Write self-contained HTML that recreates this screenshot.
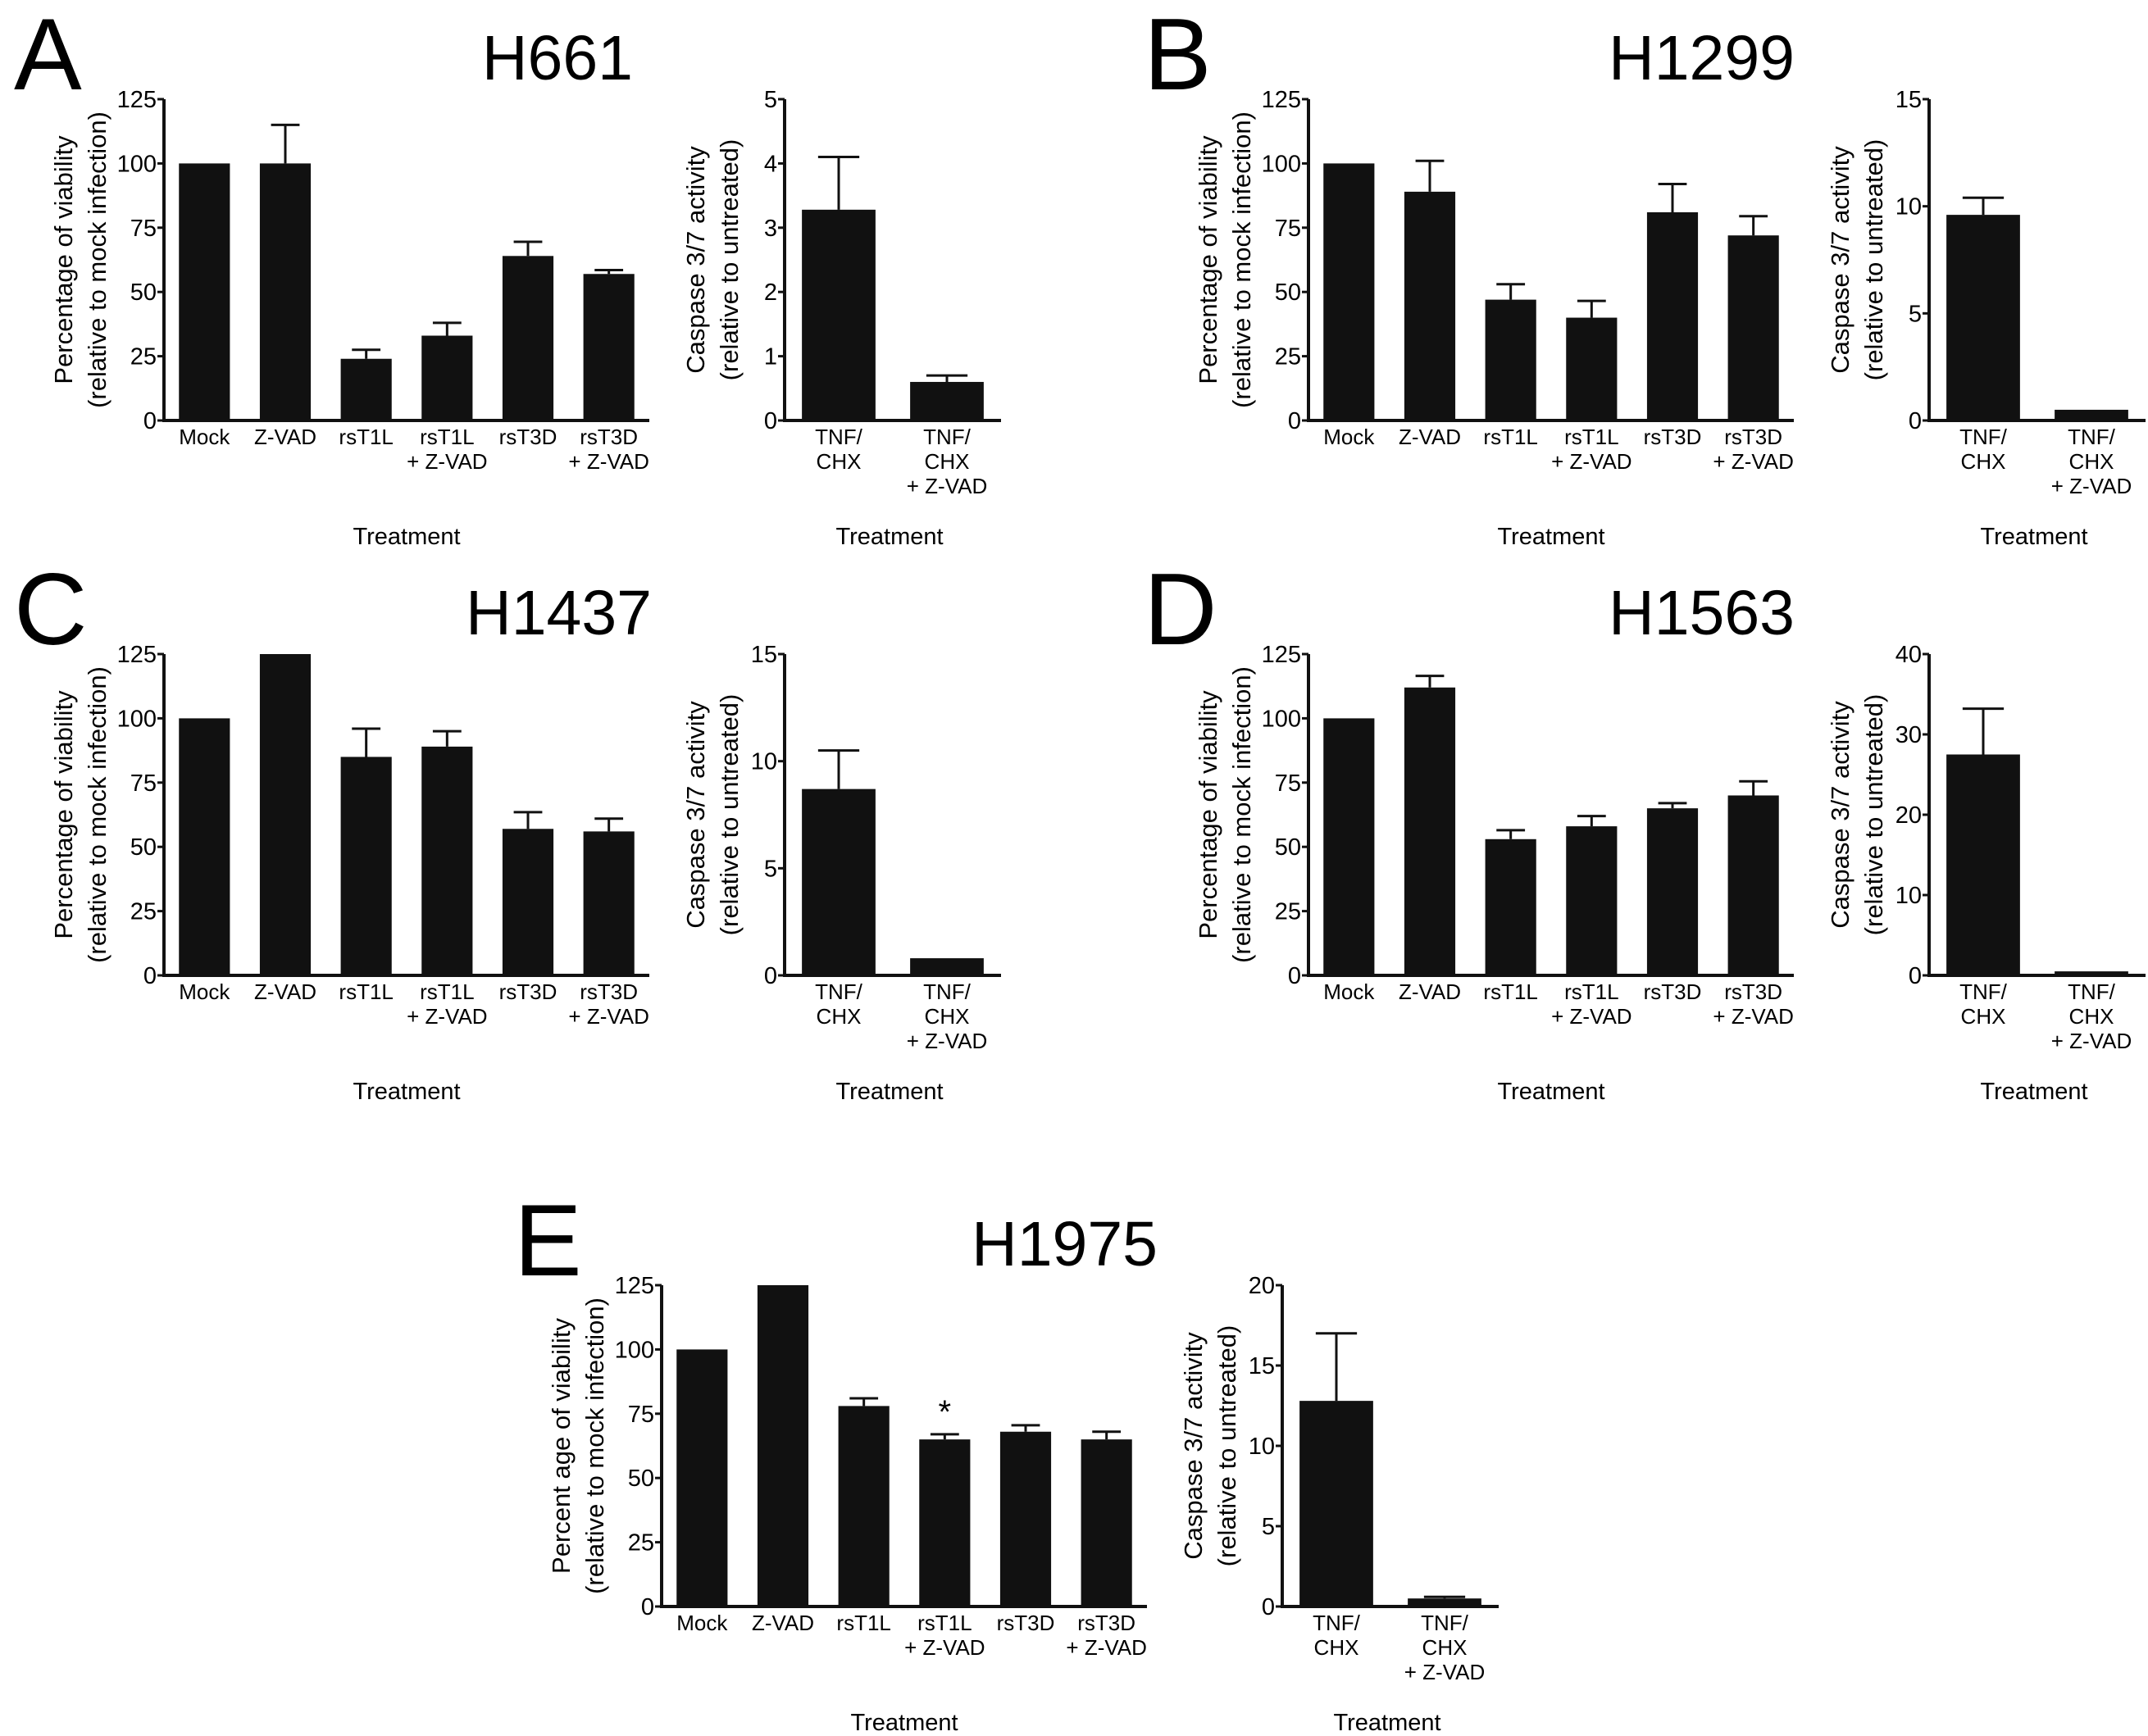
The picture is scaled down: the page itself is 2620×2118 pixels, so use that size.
<!DOCTYPE html>
<html><head><meta charset="utf-8">
<style>
html,body{margin:0;padding:0;background:#fff;}
svg{display:block;font-family:"Liberation Sans",Arial,sans-serif;}
</style></head>
<body>
<svg id="fig" width="2620" height="2118" viewBox="0 0 2620 2118" xmlns="http://www.w3.org/2000/svg"></svg>
<script>
// ---- data ----
const viabCats = [["Mock"],["Z-VAD"],["rsT1L"],["rsT1L","+ Z-VAD"],["rsT3D"],["rsT3D","+ Z-VAD"]];
const caspCats = [["TNF/","CHX"],["TNF/","CHX","+ Z-VAD"]];
const viabTicks = [0,25,50,75,100,125];
const viabA = [100,100,24,33,64,57];
const viabAErr = [null,115,27.5,38,69.5,58.5];
const viabB = [100,89,47,40,81,72];
const viabBErr = [null,101,53,46.5,92,79.5];
const viabC = [100,125,85,89,57,56];
const viabCErr = [null,null,96,95,63.5,61];
const viabD = [100,112,53,58,65,70];
const viabDErr = [null,116.5,56.5,62,67,75.5];
const viabE = [100,125,78,65,68,65];
const viabEErr = [null,null,81,67,70.5,68];
const caspTicksA = [0,1,2,3,4,5];
const caspTicksB = [0,5,10,15];
const caspTicksC = [0,5,10,15];
const caspTicksD = [0,10,20,30,40];
const caspTicksE = [0,5,10,15,20];
const caspA = [3.28,0.6];
const caspAErr = [4.1,0.7];
const caspB = [9.6,0.5];
const caspBErr = [10.4,null];
const caspC = [8.7,0.8];
const caspCErr = [10.5,null];
const caspD = [27.5,0.5];
const caspDErr = [33.2,null];
const caspE = [12.8,0.5];
const caspEErr = [17,0.6];

const NS="http://www.w3.org/2000/svg";
const svg=document.getElementById('fig');
function el(tag,attrs,parent,text){
  const e=document.createElementNS(NS,tag);
  for(const k in attrs) e.setAttribute(k,attrs[k]);
  if(text!==undefined) e.textContent=text;
  (parent||svg).appendChild(e);
  return e;
}

function chart(name,ox,oy,x0,x1,cats,vals,errs,ticks,barFrac,ylab,tcx,star){
  const g=el('g',{transform:`translate(${ox},${oy})`});
  
  
  const top=121, zero=513, ymax=ticks[ticks.length-1];
  const y=v=>zero-(v/ymax)*(zero-top);
  const band=(x1-x0)/cats.length;
  const xc=i=>x0+band*(i+0.5);
  const bw=band*barFrac;
  vals.forEach((v,i)=>{
    const r=el('rect',{x:xc(i)-bw/2,y:y(v),width:bw,height:zero-y(v),fill:'#111'},g);
    
    
    if(errs[i]!=null){
      const e=el('path',{d:`M${xc(i)} ${y(v)}V${y(errs[i])}M${xc(i)-bw*0.28} ${y(errs[i])}H${xc(i)+bw*0.28}`,stroke:'#111','stroke-width':3,fill:'none'},g);
      
      
    }
    cats[i].forEach((t,j)=>{
      const tx=el('text',{x:xc(i),y:542+j*30,'font-size':26,'text-anchor':'middle'},g,t);
      
      
    });
  });
  if(star!=null){
    const s=el('text',{x:xc(star),y:y(errs[star])-14,'font-size':40,'text-anchor':'middle'},g,'*');
    
    
  }
  const ax=el('path',{d:`M${x0} ${top}V${zero}H${x1}`,stroke:'#111','stroke-width':4,fill:'none'},g);
  
  
  ticks.forEach(t=>{
    el('line',{x1:x0-8,x2:x0,y1:y(t),y2:y(t),stroke:'#111','stroke-width':3},g);
    const tl=el('text',{x:x0-9,y:y(t)+10,'font-size':29,'text-anchor':'end'},g,t);
    
    
  });
  const lx=x0-(ticks[ticks.length-1]>=100?112:98);
  const yl=el('text',{transform:`translate(${lx},317) rotate(-90)`,'font-size':31,'text-anchor':'middle'},g);
  
  
  el('tspan',{x:0,y:0},yl,ylab[0]);
  el('tspan',{x:0,y:41},yl,ylab[1]);
  const xt=el('text',{x:tcx,y:664,'font-size':29,'text-anchor':'middle'},g,'Treatment');
  
  
}

const vl=["Percentage of viability","(relative to mock infection)"];
const vlE=["Percent age of viability","(relative to mock infection)"];
const cl=["Caspase 3/7 activity","(relative to untreated)"];

const panels=[
 {L:'A',t:'H661',ox:0,oy:0,tx:772,lx:17,v:viabA,ve:viabAErr,c:caspA,ce:caspAErr,ct:caspTicksA,vl:vl},
 {L:'B',t:'H1299',ox:1396,oy:0,tx:2189,lx:1395,v:viabB,ve:viabBErr,c:caspB,ce:caspBErr,ct:caspTicksB,vl:vl},
 {L:'C',t:'H1437',ox:0,oy:677,tx:795,lx:17,v:viabC,ve:viabCErr,c:caspC,ce:caspCErr,ct:caspTicksC,vl:vl},
 {L:'D',t:'H1563',ox:1396,oy:677,tx:2189,lx:1395,v:viabD,ve:viabDErr,c:caspD,ce:caspDErr,ct:caspTicksD,vl:vl},
 {L:'E',t:'H1975',ox:607,oy:1447,tx:1412,lx:627,v:viabE,ve:viabEErr,c:caspE,ce:caspEErr,ct:caspTicksE,vl:vlE,star:3}
];
panels.forEach(p=>{
  const letter=el('text',{x:p.lx,y:p.oy+109,'font-size':124},svg,p.L);
  
  
  const title=el('text',{x:p.tx,y:p.oy+97,'font-size':77,'text-anchor':'end'},svg,p.t);
  
  
  chart('viability-chart-'+p.L.toLowerCase(),p.ox,p.oy,200,792,viabCats,p.v,p.ve,viabTicks,0.63,p.vl,496,p.star);
  chart('caspase-chart-'+p.L.toLowerCase(),p.ox,p.oy,957,1221,caspCats,p.c,p.ce,p.ct,0.68,cl,1085);
});
</script>
</body></html>
